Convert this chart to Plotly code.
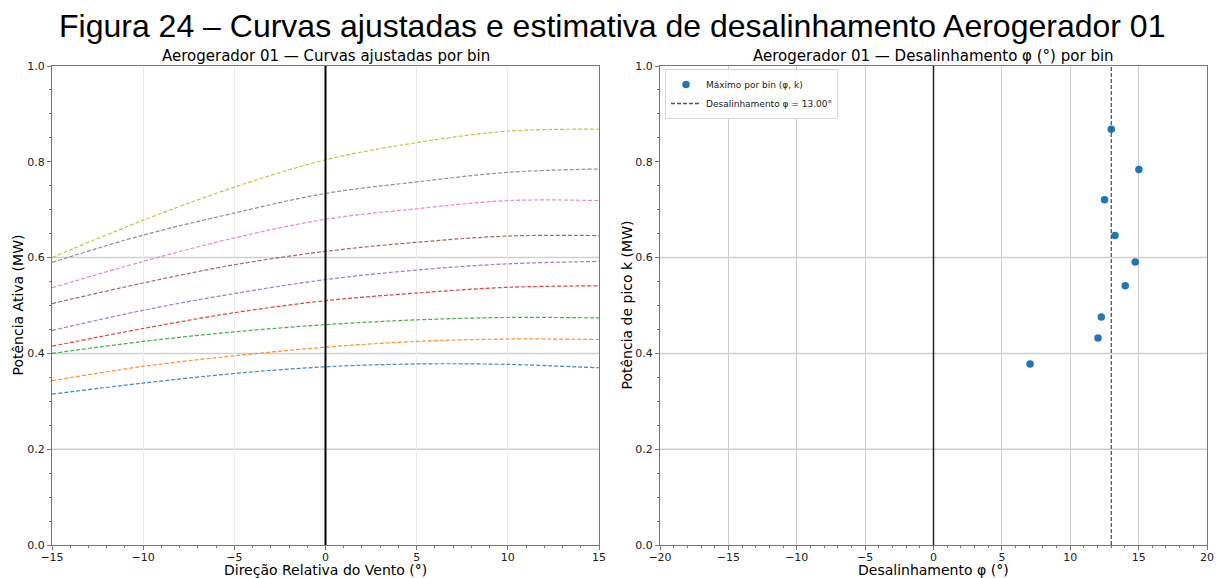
import plotly.graph_objects as go

# Relative wind direction (degrees) where each fitted curve is sampled
direcao = [-15, -10, -5, 0, 5, 10, 15]

# Fitted power curves per wind-speed bin (MW), lowest to highest bin
curva_bin1 = [0.315, 0.338, 0.358, 0.372, 0.378, 0.377, 0.370]
curva_bin2 = [0.343, 0.373, 0.395, 0.413, 0.425, 0.430, 0.429]
curva_bin3 = [0.400, 0.425, 0.445, 0.460, 0.470, 0.475, 0.474]
curva_bin4 = [0.415, 0.452, 0.485, 0.510, 0.526, 0.538, 0.541]
curva_bin5 = [0.448, 0.490, 0.525, 0.554, 0.574, 0.587, 0.592]
curva_bin6 = [0.504, 0.547, 0.585, 0.613, 0.632, 0.645, 0.646]
curva_bin7 = [0.537, 0.592, 0.641, 0.680, 0.702, 0.719, 0.719]
curva_bin8 = [0.590, 0.647, 0.693, 0.734, 0.758, 0.778, 0.785]
curva_bin9 = [0.600, 0.678, 0.747, 0.804, 0.840, 0.864, 0.868]
curvas = [curva_bin1, curva_bin2, curva_bin3, curva_bin4, curva_bin5,
          curva_bin6, curva_bin7, curva_bin8, curva_bin9]

# Peak of each fitted curve: misalignment phi (deg) and peak power k (MW)
phi_pico = [7.06, 12.03, 12.27, 14.02, 14.75, 13.27, 12.51, 15.02, 13.00]
k_pico = [0.378, 0.432, 0.476, 0.541, 0.591, 0.646, 0.721, 0.784, 0.868]

# Estimated misalignment
phi_estimado = 13.00

cores = ['#1f77b4', '#ff7f0e', '#2ca02c', '#d62728', '#9467bd',
         '#8c564b', '#e377c2', '#7f7f7f', '#bcbd22']

W, H = 1224, 578
FONT = 'DejaVu Sans'

def px_x(p):
    return p / W

def px_y(p):
    return 1 - p / H

dom_x1 = [px_x(52), px_x(599)]
dom_x2 = [px_x(660), px_x(1207)]
dom_y = [px_y(545), px_y(66)]

fig = go.Figure()

for vals, cor in zip(curvas, cores):
    fig.add_trace(go.Scatter(
        x=direcao, y=vals, mode='lines', xaxis='x', yaxis='y',
        line=dict(color=cor, width=1.2, dash='4px,2px', shape='spline', smoothing=1.0),
        opacity=0.85, showlegend=False, hoverinfo='skip'))

fig.add_trace(go.Scatter(
    x=phi_pico, y=k_pico, mode='markers', xaxis='x2', yaxis='y2',
    marker=dict(color='#1f77b4', size=7.5, line=dict(width=0)),
    name='Máximo por bin (φ, k)'))

fig.add_trace(go.Scatter(
    x=[phi_estimado, phi_estimado], y=[0, 1], mode='lines', xaxis='x2', yaxis='y2',
    line=dict(color='#555555', width=1.3, dash='4px,2px'),
    name=f'Desalinhamento φ = {phi_estimado:.2f}°'))

shapes = []
# horizontal reference lines
for ax in ['', '2']:
    for v in [0.2, 0.4, 0.6]:
        shapes.append(dict(type='line', xref=f'x{ax} domain', yref=f'y{ax}',
                           x0=0, x1=1, y0=v, y1=v, layer='below',
                           line=dict(color='#d0d0d0', width=1.5)))
# vertical zero lines
shapes.append(dict(type='line', xref='x', yref='y domain', x0=0, x1=0, y0=0, y1=1,
                   layer='above', line=dict(color='#000000', width=2)))
shapes.append(dict(type='line', xref='x2', yref='y2 domain', x0=0, x1=0, y0=0, y1=1,
                   layer='above', line=dict(color='#222222', width=1.5)))

tickfont = dict(family=FONT, size=11, color='#222222')

def xaxis_cfg(dom, rng, anchor, gridcolor):
    return dict(domain=dom, range=rng, anchor=anchor, dtick=5, tick0=0, automargin=False,
                showgrid=True, gridcolor=gridcolor, gridwidth=1, zeroline=False,
                showline=True, mirror=True, linecolor='#777777', linewidth=1.3,
                ticks='outside', ticklen=4, tickcolor='#777777', tickfont=tickfont,
                ticklabelstandoff=-2,
                minor=dict(dtick=1, ticks='outside', ticklen=2, tickcolor='#777777', showgrid=False))

def yaxis_cfg(anchor):
    return dict(domain=dom_y, range=[0, 1], anchor=anchor, dtick=0.2, tickformat='.1f',
                automargin=False, showgrid=False, zeroline=False,
                showline=True, mirror=True, linecolor='#777777', linewidth=1.3,
                ticks='outside', ticklen=4, tickcolor='#777777', tickfont=tickfont,
                minor=dict(dtick=0.05, ticks='outside', ticklen=2, tickcolor='#777777', showgrid=False))

annotations = [
    dict(text='Figura 24 – Curvas ajustadas e estimativa de desalinhamento Aerogerador 01',
         x=0.5, y=px_y(26), xref='paper', yref='paper', showarrow=False,
         xanchor='center', yanchor='middle',
         font=dict(family='Liberation Sans, Arial', size=32, color='#000000')),
    dict(text='Aerogerador 01 — Curvas ajustadas por bin',
         x=(dom_x1[0] + dom_x1[1]) / 2, y=px_y(56), xref='paper', yref='paper',
         showarrow=False, xanchor='center', yanchor='middle',
         font=dict(family=FONT, size=15, color='#000000')),
    dict(text='Aerogerador 01 — Desalinhamento φ (°) por bin',
         x=(dom_x2[0] + dom_x2[1]) / 2, y=px_y(56), xref='paper', yref='paper',
         showarrow=False, xanchor='center', yanchor='middle',
         font=dict(family=FONT, size=15, color='#000000')),
    dict(text='Direção Relativa do Vento (°)',
         x=(dom_x1[0] + dom_x1[1]) / 2, y=px_y(570), xref='paper', yref='paper',
         showarrow=False, xanchor='center', yanchor='middle',
         font=dict(family=FONT, size=14, color='#000000')),
    dict(text='Desalinhamento φ (°)',
         x=(dom_x2[0] + dom_x2[1]) / 2, y=px_y(570), xref='paper', yref='paper',
         showarrow=False, xanchor='center', yanchor='middle',
         font=dict(family=FONT, size=14, color='#000000')),
    dict(text='Potência Ativa (MW)', textangle=-90,
         x=px_x(18), y=(dom_y[0] + dom_y[1]) / 2, xref='paper', yref='paper',
         showarrow=False, xanchor='center', yanchor='middle',
         font=dict(family=FONT, size=14, color='#000000')),
    dict(text='Potência de pico k (MW)', textangle=-90,
         x=px_x(627), y=(dom_y[0] + dom_y[1]) / 2, xref='paper', yref='paper',
         showarrow=False, xanchor='center', yanchor='middle',
         font=dict(family=FONT, size=14, color='#000000')),
]

fig.update_layout(
    width=W, height=H, margin=dict(l=0, r=0, t=0, b=0, autoexpand=False),
    paper_bgcolor='white', plot_bgcolor='white',
    font=dict(family=FONT, color='#000000'),
    xaxis=xaxis_cfg(dom_x1, [-15, 15], 'y', '#ececec'),
    yaxis=yaxis_cfg('x'),
    xaxis2=xaxis_cfg(dom_x2, [-20, 20], 'y2', '#cccccc'),
    yaxis2=yaxis_cfg('x2'),
    shapes=shapes,
    annotations=annotations,
    showlegend=True,
    legend=dict(x=px_x(665), y=px_y(69), xanchor='left', yanchor='top',
                bgcolor='rgba(255,255,255,0.85)', bordercolor='#d8d8d8', borderwidth=1,
                font=dict(family=FONT, size=9, color='#222222'),
                itemwidth=30, tracegroupgap=0),
)

fig.write_html('out.html')
